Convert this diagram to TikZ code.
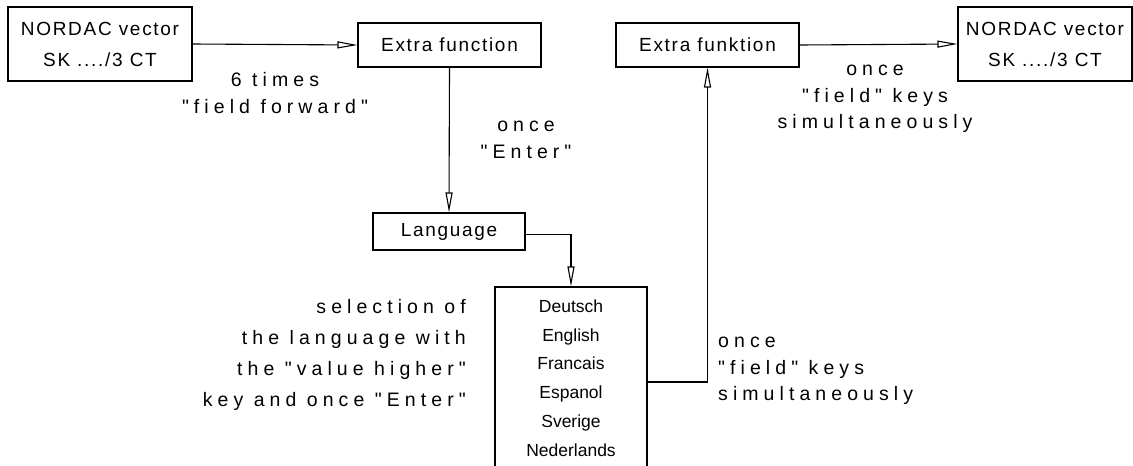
\documentclass[tikz,border=0pt]{standalone}
\usepackage{fontspec}
\usetikzlibrary{arrows.meta,positioning}
\newfontfamily\boxfont[LetterSpace=9]{Liberation Sans}
\newfontfamily\labfont[LetterSpace=26]{Liberation Sans}
\newfontfamily\listfont{Liberation Sans}

\tikzset{
  stepbox/.style={draw, line width=1.1pt, inner sep=0pt, align=center,
    font=\boxfont\fontsize{19}{31}\selectfont},
  listbox/.style={draw, line width=1.1pt, inner sep=0pt, align=center,
    minimum width=152pt, minimum height=182pt,
    font=\listfont\fontsize{17.5}{28.8}\selectfont},
  lab/.style={inner sep=0pt, font=\labfont\fontsize{19.5}{26.5}\selectfont},
  arr/.style={line width=1.1pt,
    -{Triangle[open,length=20pt,width=7pt]}},
}

\begin{document}
\begin{tikzpicture}[x=1pt, y=-1pt]
      \useasboundingbox (0,0) rectangle (1133,466);
      % Define nodes
      \node[stepbox, minimum width=184pt, minimum height=74pt] (nord1) at (100,44) {NORDAC vector\\SK ..../3 CT};
      \node[stepbox, minimum width=183pt, minimum height=44pt] (extra1) at (449.5,45) {Extra function};
      \node[stepbox, minimum width=152pt, minimum height=37pt] (lang) at (449,231.5) {Language};
      \node[listbox] (langs) at (571,378) {Deutsch\\English\\Francais\\Espanol\\Sverige\\Nederlands};
      \node[stepbox, minimum width=183pt, minimum height=44pt] (extra2) at (707.5,45) {Extra funktion};
      \node[stepbox, minimum width=174pt, minimum height=74pt] (nord2) at (1045,44) {NORDAC vector\\SK ..../3 CT};
      % Labels
      \node[lab, align=center] (times) at (275,93) {6 times\\"field forward"};
      \node[lab, align=center] (enter) at (526,140) {once\\"Enter"};
      \node[lab, align=center] (keys1) at (875,99) {once\\"field" keys\\simultaneously};
      \node[lab, align=right, anchor=east, font=\labfont\fontsize{19.5}{31}\selectfont] (select) at (466,355) {selection of\\the language with\\the "value higher"\\key and once "Enter"};
      \node[lab, align=left, anchor=west] (keys2) at (718,371) {once\\"field" keys\\simultaneously};
      % Connect nodes
      \draw[arr] (nord1.east) -- (extra1.west);
      \draw[arr] (extra1.south) -- (lang.north);
      \draw[arr] ([yshift=-3pt]lang.east) -| (langs.north);
      \draw[arr] ([yshift=-4pt]langs.east) -| (extra2.south);
      \draw[arr] (extra2.east) -- (nord2.west);
\end{tikzpicture}
\end{document}
